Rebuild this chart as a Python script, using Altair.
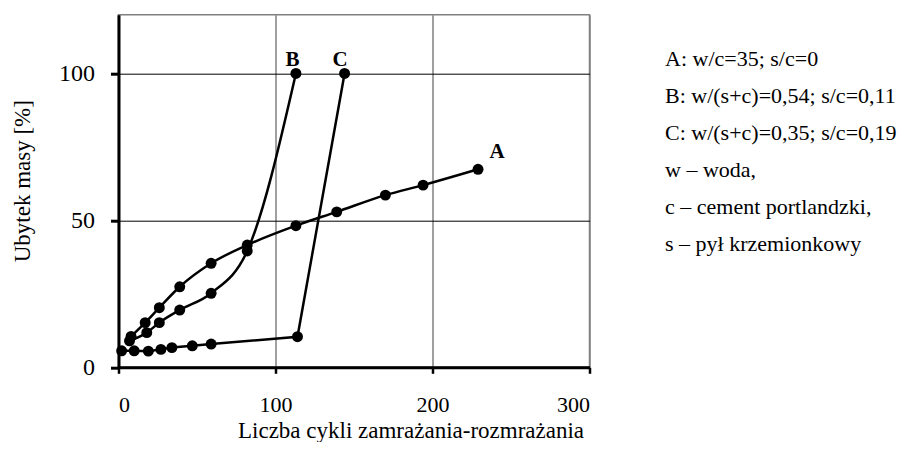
import altair as alt
import pandas as pd

# ---- data ----
A_X = [8, 17, 26, 39, 59, 82, 113, 139, 170, 194, 229]
A_Y = [10.5, 15.2, 20.3, 27.4, 35.4, 41.6, 48.2, 52.9, 58.6, 62.0, 67.4]
B_X = [7, 18, 26, 39, 59, 82, 113]
B_Y = [9.0, 11.8, 15.2, 19.5, 25.2, 39.6, 100]
C_X = [2, 10, 19, 27, 34, 47, 59, 114, 144]
C_Y = [5.6, 5.6, 5.5, 6.1, 6.7, 7.3, 7.9, 10.4, 100]

X_TICKS = [0, 100, 200, 300]
Y_TICKS = [0, 50, 100]
X_TITLE = "Liczba cykli zamrażania-rozmrażania"
Y_TITLE = "Ubytek masy [%]"
LEGEND_LINES = [
    "A: w/c=35; s/c=0",
    "B: w/(s+c)=0,54; s/c=0,11",
    "C: w/(s+c)=0,35; s/c=0,19",
    "w – woda,",
    "c – cement portlandzki,",
    "s – pył krzemionkowy",
]

FONT = "Liberation Serif"

rows = []
for name, xs, ys in (("A", A_X, A_Y), ("B", B_X, B_Y), ("C", C_X, C_Y)):
    for i, (xv, yv) in enumerate(zip(xs, ys)):
        rows.append({"series": name, "x": xv, "y": yv, "last": i == len(xs) - 1})
df = pd.DataFrame(rows)

x_enc = alt.X(
    "x:Q",
    scale=alt.Scale(domain=[0, 300], nice=False, zero=False),
    axis=alt.Axis(
        values=X_TICKS,
        title=X_TITLE,
        grid=True,
        gridColor="#808080",
        gridWidth=1.5,
        domainColor="black",
        domainWidth=3,
        tickColor="black",
        tickWidth=2.5,
        tickSize=6,
        labelFont=FONT,
        labelFontSize=22,
        labelColor="black",
        labelBaseline="alphabetic",
        labelPadding=38,
        titleFont=FONT,
        titleFontSize=23,
        titleFontWeight="normal",
        titleColor="black",
        titleX=292,
        titleY=70.5,
        titleAlign="center",
        titleBaseline="alphabetic",
    ),
)
y_enc = alt.Y(
    "y:Q",
    scale=alt.Scale(domain=[0, 120], nice=False, zero=False),
    axis=alt.Axis(
        values=Y_TICKS,
        title=Y_TITLE,
        grid=True,
        gridColor="black",
        gridWidth=1,
        domainColor="black",
        domainWidth=3,
        tickColor="black",
        tickWidth=3,
        tickSize=8,
        labelFont=FONT,
        labelFontSize=24,
        labelColor="black",
        labelBaseline="middle",
        labelPadding=16,
        titleFont=FONT,
        titleFontSize=23,
        titleFontWeight="normal",
        titleColor="black",
        titleX=-96,
        titleY=166,
        titleAlign="center",
        titleBaseline="middle",
    ),
)

base = alt.Chart(df)

line_a = base.transform_filter(alt.datum.series == "A").mark_line(
    color="black", strokeWidth=2.5, interpolate="monotone"
).encode(x=x_enc, y=y_enc)
line_b = base.transform_filter(alt.datum.series == "B").mark_line(
    color="black", strokeWidth=2.5, interpolate="monotone"
).encode(x="x:Q", y="y:Q")
line_c = base.transform_filter(alt.datum.series == "C").mark_line(
    color="black", strokeWidth=2.5, interpolate="linear"
).encode(x="x:Q", y="y:Q")

points = base.mark_circle(size=120, color="black", opacity=1).encode(x="x:Q", y="y:Q")


def label(name, dx, dy):
    return base.transform_filter(
        (alt.datum.series == name) & alt.datum.last
    ).mark_text(
        font=FONT, fontSize=21, fontWeight="bold", color="black",
        align="center", baseline="alphabetic", dx=dx, dy=dy,
    ).encode(x="x:Q", y="y:Q", text="series:N")


lab_a = label("A", 19, -11)
lab_b = label("B", -3.5, -7)
lab_c = label("C", -4.5, -7)

legend = alt.Chart(pd.DataFrame({"t": ["\n".join(LEGEND_LINES)]})).mark_text(
    font=FONT, fontSize=22, color="black", align="left", baseline="alphabetic",
    lineBreak="\n", lineHeight=37,
).encode(x=alt.value(546.5), y=alt.value(51), text="t:N")

chart = alt.layer(line_a, line_b, line_c, points, lab_a, lab_b, lab_c, legend).properties(
    width=471,
    height=352.6,
    autosize=alt.AutoSizeParams(type="none"),
    padding={"left": 110.5, "top": 6.7, "right": 320.5, "bottom": 74.7},
    background="white",
).configure_view(stroke="#808080", strokeWidth=1.5)

chart.save("out.html", embed_options={"renderer": "svg", "actions": False})
